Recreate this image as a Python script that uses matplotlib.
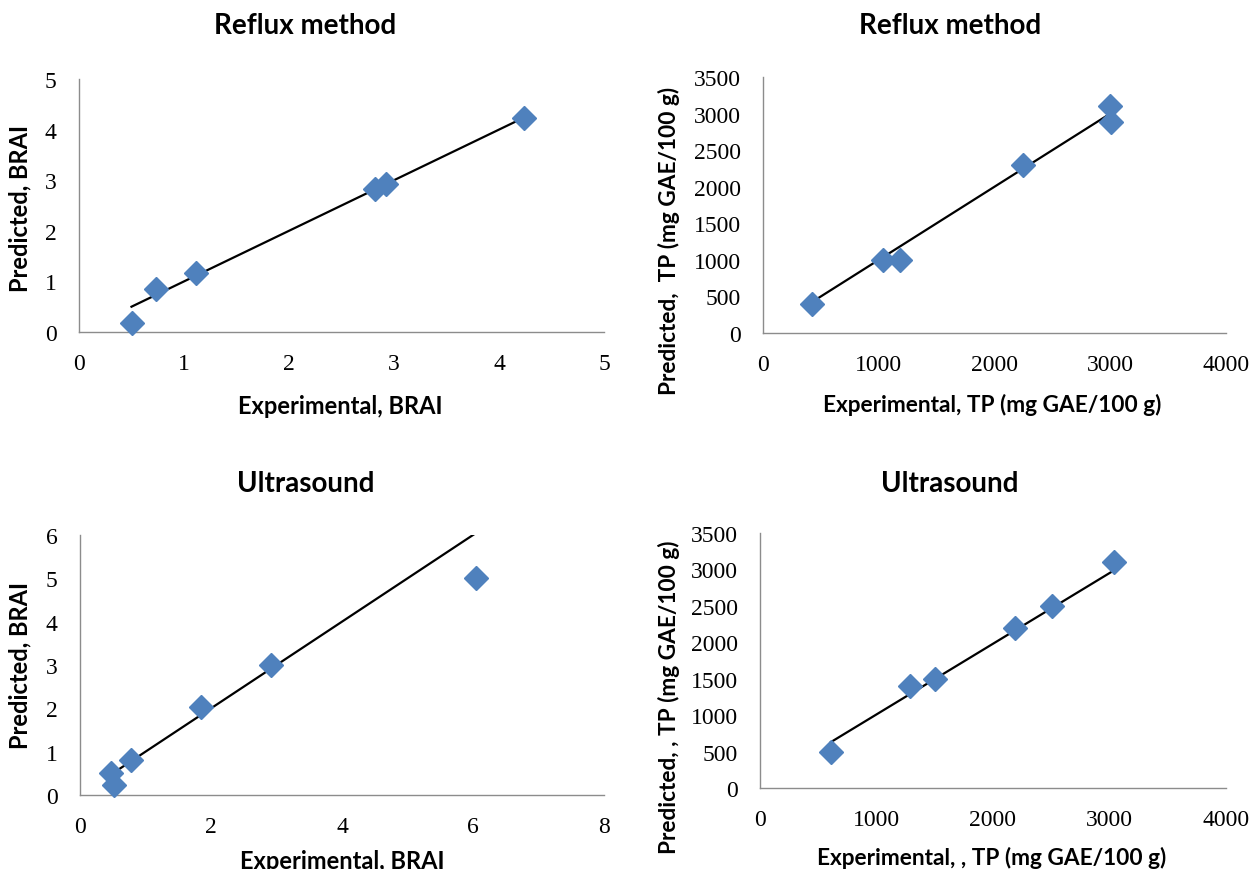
import matplotlib
matplotlib.use("Agg")
import matplotlib.pyplot as plt
import numpy as np

# ---- data ----
reflux_brai_exp = [0.50, 0.73, 1.11, 2.82, 2.92, 4.24]
reflux_brai_pred = [0.18, 0.84, 1.17, 2.82, 2.93, 4.22]

reflux_tp_exp = [420, 1040, 1180, 2245, 2995, 3010]
reflux_tp_pred = [390, 1000, 1000, 2300, 3100, 2890]

ultra_brai_exp = [0.47, 0.52, 0.78, 1.85, 2.92, 6.04]
ultra_brai_pred = [0.50, 0.22, 0.81, 2.02, 2.99, 5.00]

ultra_tp_exp = [610, 1290, 1500, 2190, 2510, 3040]
ultra_tp_pred = [500, 1400, 1500, 2200, 2500, 3100]

# reference (trend) line: slope, intercept per panel
line_slope = [1.0, 1.0, 1.0, 0.97]
line_intercept = [0.0, 0.0, 0.0, 40.0]

titles = ["Reflux method", "Reflux method", "Ultrasound", "Ultrasound"]
xlabels = ["Experimental, BRAI", "Experimental, TP (mg GAE/100 g)",
           "Experimental, BRAI", "Experimental, , TP (mg GAE/100 g)"]
ylabels = ["Predicted, BRAI", "Predicted,  TP (mg GAE/100 g)",
           "Predicted, BRAI", "Predicted, , TP (mg GAE/100 g)"]
xlims = [(0, 5), (0, 4000), (0, 8), (0, 4000)]
ylims = [(0, 5), (0, 3500), (0, 6), (0, 3500)]
xticks = [[0, 1, 2, 3, 4, 5], [0, 1000, 2000, 3000, 4000],
          [0, 2, 4, 6, 8], [0, 1000, 2000, 3000, 4000]]
yticks = [[0, 1, 2, 3, 4, 5], [0, 500, 1000, 1500, 2000, 2500, 3000, 3500],
          [0, 1, 2, 3, 4, 5, 6], [0, 500, 1000, 1500, 2000, 2500, 3000, 3500]]

xs = [reflux_brai_exp, reflux_tp_exp, ultra_brai_exp, ultra_tp_exp]
ys = [reflux_brai_pred, reflux_tp_pred, ultra_brai_pred, ultra_tp_pred]

W, H = 1256, 870
fig = plt.figure(figsize=(W / 100, H / 100), dpi=100)
fig.patch.set_facecolor("white")

# axes boxes in pixels: left, right, top, bottom
boxes = [(79, 604, 80, 333), (763, 1226, 78, 334),
         (80, 604, 536, 796), (760, 1226, 534, 789)]
# text anchor positions in pixels
title_pos = [(305, 26), (950, 26), (306, 484), (950, 484)]
xlabel_pos = [(340, 407), (992, 405), (342, 862), (992, 858)]
xlabel_size = [17, 16.3, 17, 16.3]
ylabel_pos = [(20, 208), (669, 241), (20, 666), (669, 697)]
ylabel_size = [17, 16.3, 17, 16.3]

label_font = "Lato"
tick_font = "Liberation Serif"

for i in range(4):
    l, r, t, b = boxes[i]
    ax = fig.add_axes([l / W, 1 - b / H, (r - l) / W, (b - t) / H])
    x = np.array(xs[i], dtype=float)
    y = np.array(ys[i], dtype=float)
    xx = np.array([x.min(), x.max()])
    yy = line_slope[i] * xx + line_intercept[i]
    ax.plot(xx, yy, color="black", lw=1.6, zorder=2, clip_on=True)
    ax.plot(x, y, linestyle="none", marker="D", ms=12.5, color="#4F81BD",
            markeredgecolor="#4F81BD", zorder=3, clip_on=False)
    ax.set_xlim(*xlims[i])
    ax.set_ylim(*ylims[i])
    ax.set_xticks(xticks[i])
    ax.set_yticks(yticks[i])
    for s in ["top", "right"]:
        ax.spines[s].set_visible(False)
    for s in ["left", "bottom"]:
        ax.spines[s].set_color("#8c8c8c")
        ax.spines[s].set_linewidth(1.0)
    ax.tick_params(length=0, labelsize=17)
    ax.tick_params(axis="x", pad=15)
    ax.tick_params(axis="y", pad=16)
    for lab in ax.get_xticklabels() + ax.get_yticklabels():
        lab.set_fontfamily(tick_font)

    tx, ty = title_pos[i]
    fig.text(tx / W, 1 - ty / H, titles[i], ha="center", va="center",
             fontsize=20, fontweight="bold", fontfamily=label_font)
    lx, ly = xlabel_pos[i]
    fig.text(lx / W, 1 - ly / H, xlabels[i], ha="center", va="center",
             fontsize=xlabel_size[i], fontweight="bold", fontfamily=label_font)
    yx, yy_ = ylabel_pos[i]
    fig.text(yx / W, 1 - yy_ / H, ylabels[i], ha="center", va="center",
             rotation=90, fontsize=ylabel_size[i], fontweight="bold",
             fontfamily=label_font)

fig.savefig("out.png", dpi=100, facecolor="white")
